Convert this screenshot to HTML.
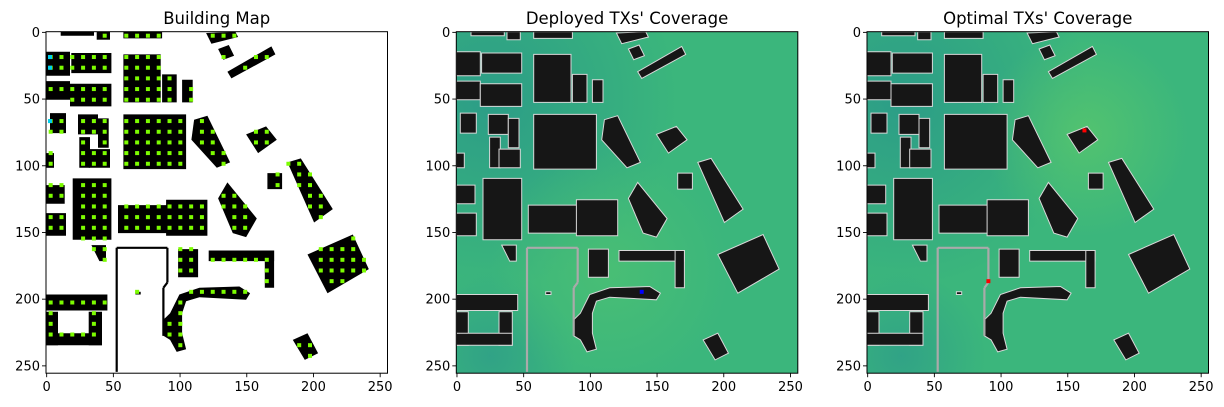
<!DOCTYPE html>
<html><head><meta charset="utf-8">
<style>
html,body{margin:0;padding:0;background:#fff;}
body{width:1224px;height:407px;position:relative;overflow:hidden;font-family:"DejaVu Sans","Liberation Sans",sans-serif;}
svg{position:absolute;left:0;top:0;}
</style></head>
<body>
<svg id="fig" width="1224" height="407" viewBox="0 0 1224 407" xmlns="http://www.w3.org/2000/svg">
<defs>
  <radialGradient id="tealTL" cx="0.1" cy="0.2" r="0.55">
    <stop offset="0" stop-color="#2a9a88" stop-opacity="0.9"/>
    <stop offset="1" stop-color="#2a9a88" stop-opacity="0"/>
  </radialGradient>
  <radialGradient id="tealBL" cx="0.1" cy="0.95" r="0.25">
    <stop offset="0" stop-color="#2c9a8a" stop-opacity="0.7"/>
    <stop offset="1" stop-color="#2c9a8a" stop-opacity="0"/>
  </radialGradient>
  <radialGradient id="greenC" cx="0.45" cy="0.7" r="0.35">
    <stop offset="0" stop-color="#4cc073" stop-opacity="0.8"/>
    <stop offset="1" stop-color="#4cc073" stop-opacity="0"/>
  </radialGradient>
  <radialGradient id="greenTX" cx="0.64" cy="0.3" r="0.3">
    <stop offset="0" stop-color="#55c46e" stop-opacity="0.9"/>
    <stop offset="1" stop-color="#55c46e" stop-opacity="0"/>
  </radialGradient>
</defs>
</svg>
<script>
// ---- data (map coordinates, 0..255) ----
const titles = ["Building Map", "Deployed TXs' Coverage", "Optimal TXs' Coverage"];
const tickValues = [0, 50, 100, 150, 200, 250];
const buildingRects = [
  [11,0,35,2],[38,0,47,5],[58,0,86,4],[0,15,17,32],[19,16,48,30],[58,17,85,52],
  [87,32,97,52],[102,36,109,52],[0,37,17,50],[18,39,48,55],[3,61,14,75],[24,62,38,76],
  [39,65,46,86],[58,62,104,102],[25,79,32,101],[32,88,47,101],[0,91,5,101],
  [166,106,176,117],[0,115,13,128],[20,110,48,155],[0,136,14,152],[54,130,91,150],
  [90,126,120,152],[99,163,113,183],[122,164,170,171],[164,164,170,191],[0,197,45,208],
  [0,210,8,234],[32,210,41,234],[0,226,41,234],[67,195,70,196]
];
const buildingPolys = [
  [[120,1],[142,0],[144,4],[124,9]],
  [[129,13],[137,10],[141,18],[133,21]],
  [[136,30],[169,11],[172,17],[139,35]],
  [[111,66],[121,63],[138,98],[128,102],[109,81]],
  [[150,77],[165,71],[173,81],[159,91]],
  [[181,98],[191,95],[215,133],[201,143]],
  [[129,125],[136,113],[158,140],[150,154],[140,151]],
  [[34,160],[45,160],[45,172],[40,172]],
  [[196,167],[230,152],[242,178],[211,196]],
  [[93,211],[100,197],[115,192],[145,191],[153,196],[150,201],[115,199],[105,202],[102,211],[102,226],[105,238],[98,240],[93,231],[88,228],[88,216]],
  [[185,231],[196,226],[204,241],[194,246]]
];
const wallLines = [
  [[53,162],[53,255]],[[53,162],[91,162]],[[91,162],[91,188]],[[91,188],[88,192]],[[88,192],[88,228]]
];
const cyanDots = [[3,19],[3,27],[3,67]];
const deployedTX = [[139,195]];
const optimalTX = [[163,74],[91,187]];

// ---- layout ----
const panelLeft = [46, 456.3, 867];
const panelTop = 31.7, panelSize = 341.5;
const unit = panelSize / 256;
const svg = document.getElementById('fig');
const NS = 'http://www.w3.org/2000/svg';
function mk(tag, attrs, parent) {
  const e = document.createElementNS(NS, tag);
  for (const k in attrs) e.setAttribute(k, attrs[k]);
  (parent || svg).appendChild(e);
  return e;
}
const allPolys = buildingRects.map(r => [[r[0],r[1]],[r[2]+1,r[1]],[r[2]+1,r[3]+1],[r[0],r[3]+1]]).concat(buildingPolys);
function inPoly(x, y, p) {
  let c = false;
  for (let i = 0, j = p.length - 1; i < p.length; j = i++) {
    if (((p[i][1] > y) !== (p[j][1] > y)) && (x < (p[j][0] - p[i][0]) * (y - p[i][1]) / (p[j][1] - p[i][1]) + p[i][0])) c = !c;
  }
  return c;
}

for (let k = 0; k < 3; k++) {
  const L = panelLeft[k];
  const sx = v => L + (v + 0.5) * unit;
  const sy = v => panelTop + (v + 0.5) * unit;
  const px = v => L + v * unit;
  const py = v => panelTop + v * unit;
  const g = mk('g', {});
  
  
  if (k === 0) {
    mk('rect', {x: L, y: panelTop, width: panelSize, height: panelSize, fill: '#ffffff'}, g);
  } else {
    mk('rect', {x: L, y: panelTop, width: panelSize, height: panelSize, fill: '#3bb67c'}, g);
    mk('rect', {x: L, y: panelTop, width: panelSize, height: panelSize, fill: 'url(#tealTL)'}, g);
    mk('rect', {x: L, y: panelTop, width: panelSize, height: panelSize, fill: 'url(#tealBL)'}, g);
    mk('rect', {x: L, y: panelTop, width: panelSize, height: panelSize, fill: k === 1 ? 'url(#greenC)' : 'url(#greenTX)'}, g);
  }
  allPolys.forEach((p, i) => {
    const pts = p.map(q => px(q[0]).toFixed(1) + ',' + py(q[1]).toFixed(1)).join(' ');
    const b = mk('polygon', {points: pts, fill: k === 0 ? '#000' : '#161616', stroke: k === 0 ? 'none' : '#d8d8d8', 'stroke-width': k === 0 ? 0 : 1}, g);
    
    
  });
  wallLines.forEach(w => {
    const l = mk('line', {x1: px(w[0][0]), y1: py(w[0][1]), x2: px(w[1][0]), y2: py(w[1][1]), stroke: k === 0 ? '#000' : '#aaaaaa', 'stroke-width': 2.2}, g);
    
    
  });
  if (k === 0) {
    for (let gy = 3; gy < 256; gy += 8) {
      for (let gx = 3.5; gx < 256; gx += 8.1) {
        if (allPolys.some(p => inPoly(gx, gy, p))) {
          const d = mk('rect', {x: px(gx - 1.5), y: py(gy - 1.5), width: 3 * unit, height: 3 * unit, fill: '#7cfc00'}, g);
          
          
        }
      }
    }
    cyanDots.forEach(c => {
      const d = mk('rect', {x: px(c[0] - 1.5), y: py(c[1] - 1.5), width: 3 * unit, height: 3 * unit, fill: '#00d0f0'}, g);
      
      
    });
  }
  const txs = k === 1 ? deployedTX : (k === 2 ? optimalTX : []);
  txs.forEach(t => {
    const d = mk('rect', {x: px(t[0] - 1.5), y: py(t[1] - 1.5), width: 3 * unit, height: 3 * unit, fill: k === 1 ? '#0000ff' : '#ff0000'}, g);
    
    
  });
  mk('rect', {x: L, y: panelTop, width: panelSize, height: panelSize, fill: 'none', stroke: '#000', 'stroke-width': 1}, g);
  tickValues.forEach(v => {
    mk('line', {x1: sx(v), y1: panelTop + panelSize, x2: sx(v), y2: panelTop + panelSize + 4, stroke: '#000', 'stroke-width': 0.9}, g);
    const tx = mk('text', {x: sx(v), y: panelTop + panelSize + 18, 'text-anchor': 'middle', 'font-size': 13, fill: '#000'}, g);
    tx.textContent = v;
    
    
    mk('line', {x1: L, y1: sy(v), x2: L - 4, y2: sy(v), stroke: '#000', 'stroke-width': 0.9}, g);
    const ty = mk('text', {x: L - 6, y: sy(v) + 4.5, 'text-anchor': 'end', 'font-size': 13, fill: '#000'}, g);
    ty.textContent = v;
    
    
  });
  const t = mk('text', {x: L + panelSize / 2, y: 24, 'text-anchor': 'middle', 'font-size': 16.5, fill: '#000'}, g);
  t.textContent = titles[k];
  
  
}
</script>
</body></html>
